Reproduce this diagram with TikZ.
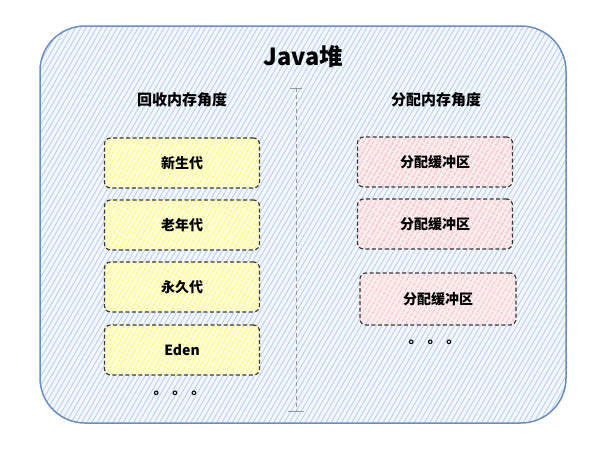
\documentclass[tikz,border=0pt]{standalone}
\usepackage{fontspec}
\setmainfont{Noto Sans CJK SC}
\usetikzlibrary{patterns.meta}
\definecolor{outerline}{HTML}{6C8EBF}
\definecolor{outerhatch}{HTML}{BCD2EF}
\definecolor{outerbg}{HTML}{F4F8FE}
\definecolor{yhatch}{HTML}{FFFF55}
\definecolor{ybg}{HTML}{FCFCD8}
\definecolor{phatch}{HTML}{F8BDBD}
\definecolor{pbg}{HTML}{FAEDF0}
\definecolor{boxline}{HTML}{3A3A3A}
\begin{document}
\begin{tikzpicture}[x=1pt,y=-1pt,
  outerbox/.style={draw=outerline,line width=1.5pt,rounded corners=45pt,
    preaction={fill=outerbg},pattern={Lines[angle=60,distance=4.5pt,line width=1pt]},pattern color=outerhatch},
  genbox/.style={draw=boxline,line width=1.2pt,dashed,dash pattern=on 4pt off 2.5pt,rounded corners=6pt,
    minimum width=155pt,minimum height=50pt,inner sep=0pt,
    preaction={fill=ybg},pattern={Lines[angle=60,distance=4pt,line width=1.1pt]},pattern color=yhatch,
    font=\bfseries\fontsize{14}{16}\selectfont},
  bufbox/.style={genbox,preaction={fill=pbg},pattern color=phatch},
  lbl/.style={font=\bfseries\fontsize{15}{17}\selectfont},
  dots/.style={font=\bfseries\fontsize{14}{16}\selectfont},
  divider/.style={draw=gray!80,line width=0.9pt,dash pattern=on 4pt off 3pt},
  tick/.style={draw=gray!80,line width=0.9pt}
]
\useasboundingbox (0,0) rectangle (598,456);
\path[outerbox] (40,26) rectangle (566,423);
\node (title) at (303,57) {\bfseries\fontsize{23.5}{26}\selectfont Java堆};
\node[lbl] (left) at (182,100) {回收内存角度};
\node[lbl] (right) at (436,100) {分配内存角度};
\coordinate (dtop) at (296,88);
\coordinate (dbot) at (296,411);
\draw[divider] (dtop) -- (dbot);
\draw[tick] ([xshift=-6pt]dtop) -- ([xshift=6pt]dtop);
\draw[tick] ([xshift=-8pt]dbot) -- ([xshift=8pt]dbot);
\node[genbox] (young) at (182,163) {新生代};
\node[genbox] (old) at (182,225) {老年代};
\node[genbox] (perm) at (182,287) {永久代};
\node[genbox] (eden) at (182,350) {Eden};
\node[dots] (ldots) at (179.5,393) {。\hspace{5pt}。\hspace{5pt}。};
\node[bufbox] (buf1) at (435,162) {分配缓冲区};
\node[bufbox] (buf2) at (435,224) {分配缓冲区};
\node[bufbox,minimum width=156pt,minimum height=52pt] (buf3) at (438,299) {分配缓冲区};
\node[dots] (rdots) at (434.5,342) {。\hspace{5pt}。\hspace{5pt}。};
\end{tikzpicture}
\end{document}
